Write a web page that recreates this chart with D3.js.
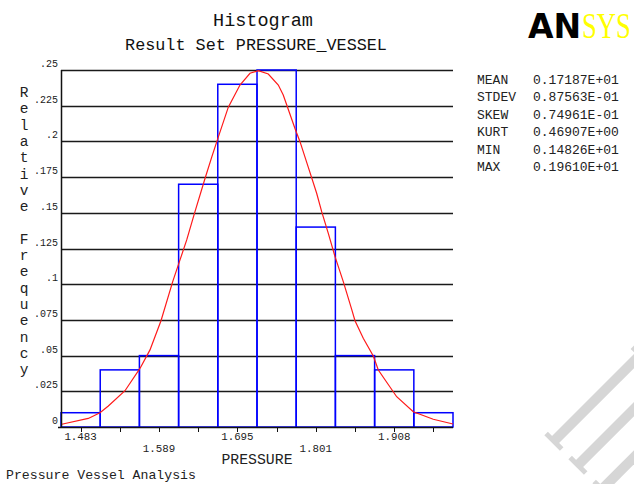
<!DOCTYPE html>
<html>
<head>
<meta charset="utf-8">
<script src="https://cdn.jsdelivr.net/npm/d3@7"></script>
<style>
  html, body { margin: 0; padding: 0; background: #fff; }
  svg { display: block; }
  text { font-family: "Courier New", "Liberation Mono", monospace; }
  text.logo-an { font-family: "DejaVu Sans", sans-serif; font-weight: 900; }
  text.logo-sys { font-family: "Liberation Serif", serif; }
</style>
</head>
<body>
<svg id="chart" width="634" height="484"></svg>
<script>
// Histogram bins: centre of each pressure bin and its relative frequency
const binCenters = [1.4826, 1.5358, 1.5889, 1.6421, 1.6952, 1.7484, 1.8015, 1.8547, 1.9079, 1.9610];
const binWidth = 0.05316;
const relFreq = [0.01, 0.04, 0.05, 0.17, 0.24, 0.25, 0.14, 0.05, 0.04, 0.01];

// Fitted distribution curve (pressure, relative frequency)
const curvePressure = [1.4570, 1.4930, 1.5089, 1.5202, 1.5428, 1.5631, 1.5767, 1.5916, 1.6075, 1.6174,
  1.6265, 1.6377, 1.6513, 1.6604, 1.6693, 1.6829, 1.6987, 1.7123, 1.7236, 1.7371,
  1.7507, 1.7574, 1.7733, 1.7801, 1.7913, 1.8027, 1.8095, 1.8185, 1.8276, 1.8388,
  1.8502, 1.8547, 1.8659, 1.8795, 1.8863, 1.9112, 1.9337, 1.9608, 1.9876];
const curveFreq = [0.0019, 0.0060, 0.0100, 0.0147, 0.0254, 0.0410, 0.0540, 0.0744, 0.1018, 0.1170,
  0.1310, 0.1508, 0.1740, 0.1890, 0.2030, 0.2240, 0.2395, 0.2477, 0.2495, 0.2472,
  0.2395, 0.2325, 0.2090, 0.1998, 0.1820, 0.1637, 0.1508, 0.1356, 0.1193, 0.1018,
  0.0824, 0.0744, 0.0621, 0.0497, 0.0399, 0.0212, 0.0107, 0.0054, 0.0021];

// Axis ticks
const yTicks = [0, 0.025, 0.05, 0.075, 0.1, 0.125, 0.15, 0.175, 0.2, 0.225, 0.25];
const yTickLabels = ["0", ".025", ".05", ".075", ".1", ".125", ".15", ".175", ".2", ".225", ".25"];
const xTickLabels = ["1.483", "1.589", "1.695", "1.801", "1.908"];

// Summary statistics
const statNames = ["MEAN", "STDEV", "SKEW", "KURT", "MIN", "MAX"];
const statValues = ["0.17187E+01", "0.87563E-01", "0.74961E-01", "0.46907E+00", "0.14826E+01", "0.19610E+01"];

const yTitle = "Relative Frequency";

const svg = d3.select("#chart");

const x = d3.scaleLinear()
  .domain([binCenters[0] - binWidth / 2, binCenters[binCenters.length - 1] + binWidth / 2])
  .range([61, 453]);
const y = d3.scaleLinear().domain([0, 0.25]).range([427, 70]);

// Faint decorative watermark strokes in the lower right corner
const wm = svg.append("g").attr("transform", "translate(550,438) rotate(-45)").attr("fill", "#d6d6d6");
[0, 34, 68].forEach(off => {
  wm.append("rect").attr("x", 0).attr("y", off).attr("width", 125).attr("height", 10);
  wm.append("rect").attr("x", -2).attr("y", off - 6).attr("width", 5).attr("height", 22);
  wm.append("rect").attr("x", 120).attr("y", off - 6).attr("width", 5).attr("height", 22);
});

// Titles
svg.append("text").attr("x", 263).attr("y", 26).attr("text-anchor", "middle")
  .attr("font-size", 18.5).attr("fill", "#111").text("Histogram");
svg.append("text").attr("x", 256).attr("y", 50).attr("text-anchor", "middle")
  .attr("font-size", 16.8).attr("fill", "#111").text("Result Set PRESSURE_VESSEL");

// Horizontal grid lines
svg.append("g").selectAll("line").data(yTicks.slice(1)).join("line")
  .attr("x1", 61).attr("x2", 453)
  .attr("y1", d => Math.round(y(d)) + 0.5).attr("y2", d => Math.round(y(d)) + 0.5)
  .attr("stroke", "#1a1a1a").attr("stroke-width", 1.3);

// Y tick labels
svg.append("g").selectAll("text").data(yTicks).join("text")
  .attr("x", 58).attr("y", d => y(d) - 3)
  .attr("text-anchor", "end").attr("font-size", 10).attr("fill", "#222")
  .text((d, i) => yTickLabels[i]);

// Vertical stacked y title
svg.append("g").selectAll("text").data(yTitle.split("")).join("text")
  .attr("x", 24).attr("y", (d, i) => 97 + i * 16.3)
  .attr("text-anchor", "middle").attr("font-size", 14.5).attr("fill", "#222")
  .text(d => d);

// Histogram bars (outline only)
svg.append("g").selectAll("rect").data(relFreq).join("rect")
  .attr("x", (d, i) => x(binCenters[i] - binWidth / 2))
  .attr("y", d => y(d))
  .attr("width", x(binCenters[0] + binWidth / 2) - x(binCenters[0] - binWidth / 2))
  .attr("height", d => y(0) - y(d))
  .attr("fill", "none").attr("stroke", "#0000ff").attr("stroke-width", 1.5);

// Fitted curve
const line = d3.line().x((d, i) => x(curvePressure[i])).y(d => y(d));
svg.append("path").datum(curveFreq).attr("d", line)
  .attr("fill", "none").attr("stroke", "#ff1a1a").attr("stroke-width", 1.2);

// Axes lines
svg.append("line").attr("x1", 61.5).attr("x2", 61.5).attr("y1", 70).attr("y2", 428)
  .attr("stroke", "#111").attr("stroke-width", 1.5);
svg.append("line").attr("x1", 58).attr("x2", 453).attr("y1", 427.5).attr("y2", 427.5)
  .attr("stroke", "#111").attr("stroke-width", 1.5);

// X ticks at bin centres
svg.append("g").selectAll("line").data(binCenters).join("line")
  .attr("x1", d => Math.round(x(d)) + 0.5).attr("x2", d => Math.round(x(d)) + 0.5)
  .attr("y1", 428).attr("y2", 432)
  .attr("stroke", "#111").attr("stroke-width", 1);

// X tick labels on every second tick, staggered in two rows
svg.append("g").selectAll("text").data(xTickLabels).join("text")
  .attr("x", (d, i) => x(binCenters[i * 2]))
  .attr("y", (d, i) => i % 2 === 0 ? 440 : 452)
  .attr("text-anchor", "middle").attr("font-size", 10.8).attr("fill", "#222")
  .text(d => d);

svg.append("text").attr("x", 257).attr("y", 464).attr("text-anchor", "middle")
  .attr("font-size", 14.8).attr("fill", "#222").text("PRESSURE");

svg.append("text").attr("x", 6).attr("y", 479)
  .attr("font-size", 13.2).attr("fill", "#222").text("Pressure Vessel Analysis");

// Statistics block
const stats = svg.append("g");
stats.selectAll("text.name").data(statNames).join("text").attr("class", "name")
  .attr("x", 477).attr("y", (d, i) => 83.5 + i * 17.5)
  .attr("font-size", 13).attr("fill", "#222").text(d => d);
stats.selectAll("text.val").data(statValues).join("text").attr("class", "val")
  .attr("x", 533).attr("y", (d, i) => 83.5 + i * 17.5)
  .attr("font-size", 13).attr("fill", "#222").text(d => d);

// Logo: heavy black "AN" followed by a condensed yellow "SYS"
svg.append("text").attr("class", "logo-an").attr("x", 528).attr("y", 37.5)
  .attr("font-size", 33).attr("fill", "#000").text("AN");
svg.append("text").attr("class", "logo-sys").attr("transform", "translate(582,37.5) scale(0.76,1)")
  .attr("font-size", 35).attr("fill", "#ffff00").text("SYS");
</script>
</body>
</html>
